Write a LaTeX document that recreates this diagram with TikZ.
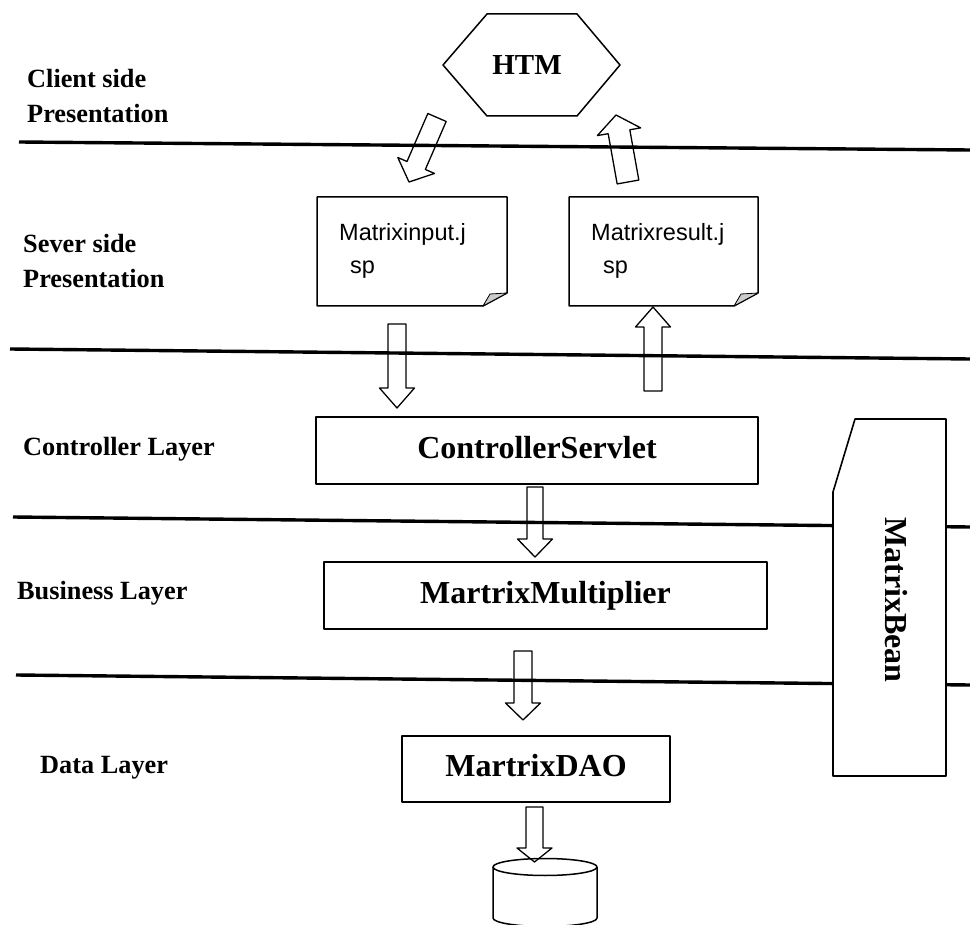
\documentclass[tikz,border=0pt]{standalone}
\usepackage{fontspec}
\setmainfont{Liberation Serif}
\newfontfamily\docfont{Liberation Sans}
\usetikzlibrary{calc}
% hollow block arrow: tail, tip, shaft half width, head half width, head length
\newcommand\blockarr[5]{%
  \coordinate (h) at ($(#2)!#5pt!(#1)$);
  \draw[barrow] ($(#1)!#3pt!90:(#2)$) -- ($(h)!#3pt!90:(#2)$) -- ($(h)!#4pt!90:(#2)$) -- (#2)
    -- ($(h)!#4pt!-90:(#2)$) -- ($(h)!#3pt!-90:(#2)$) -- ($(#1)!#3pt!-90:(#2)$) -- cycle;}
\begin{document}
\begin{tikzpicture}[x=1pt,y=-1pt,line join=round,
  layer/.style={line width=3.4pt},
  lbl/.style={anchor=base west,inner sep=0,align=left,font=\bfseries\fontsize{26.3}{35}\selectfont},
  box/.style={draw,line width=1.6pt,inner sep=0,text height=22pt,text depth=7pt,font=\bfseries\fontsize{32}{38}\selectfont},
  doc/.style={line width=1.5pt},
  doctext/.style={anchor=base west,inner sep=0,align=left,font=\docfont\fontsize{23.5}{33}\selectfont},
  barrow/.style={draw,line width=1.3pt}]
\useasboundingbox (0,0) rectangle (970,925);
% layer borders
\draw[layer] (19,142) -- (970,150);
\draw[layer] (10,349) -- (970,359);
\draw[layer] (13,517) -- (970,527);
\draw[layer] (16,675) -- (970,685);
% layer names (base = last line)
\node[lbl] (l1) at (27,123) {Client side\\Presentation};
\node[lbl] (l2) at (23,288) {Sever side\\Presentation};
\node[lbl] (l3) at (23,455) {Controller Layer};
\node[lbl] (l4) at (17,599) {Business Layer};
\node[lbl] (l5) at (40,773) {Data Layer};
% client
\draw[line width=1.5pt] (487,14) -- (577,14) -- (620,65) -- (577,116) -- (487,116) -- (443,65) -- cycle;
\node[anchor=base,inner sep=0,font=\bfseries\fontsize{29}{34}\selectfont] (htm) at (527,75) {HTM};
% jsp pages
\draw[doc] (317,197) -- (507,197) -- (507,293) -- (483,306) -- (317,306) -- cycle;
\filldraw[fill=gray!40,line width=0.8pt] (483,306) -- (490,294) -- (507,293) -- cycle;
\node[doctext] (inp) at (339,274) {Matrixinput.j\\\hspace*{11pt}sp};
\draw[doc] (569,197) -- (758,197) -- (758,293) -- (734,306) -- (569,306) -- cycle;
\filldraw[fill=gray!40,line width=0.8pt] (734,306) -- (741,294) -- (758,293) -- cycle;
\node[doctext] (res) at (591,274) {Matrixresult.j\\\hspace*{12pt}sp};
% layers
\node[box,minimum width=442pt,minimum height=67pt] (ctrl) at (537,450.5) {ControllerServlet};
\node[box,minimum width=443pt,minimum height=67pt] (mult) at (545.5,595.5) {MartrixMultiplier};
\node[box,minimum width=268pt,minimum height=66pt] (dao) at (536,769) {MartrixDAO};
% bean
\draw[line width=1.6pt,fill=white] (855,419) -- (946,419) -- (946,776) -- (833,776) -- (833,492) -- cycle;
\node[rotate=-90,font=\bfseries\fontsize{32}{38}\selectfont] (bean) at (896,600) {MatrixBean};
% database
\coordinate (db) at (545,867);
\draw[line width=1.5pt] (db) ellipse [x radius=52,y radius=8.5];
\draw[line width=1.5pt] (493,867) -- (493,918) arc[start angle=180,end angle=0,x radius=52,y radius=8.5] -- (597,867);
% arrows
\coordinate (a1s) at (437,117.5); \coordinate (a1e) at (409,182);
\coordinate (a2s) at (628,182);   \coordinate (a2e) at (616,115);
\coordinate (a3s) at (397,324);   \coordinate (a3e) at (397,408);
\coordinate (a4s) at (653,391);   \coordinate (a4e) at (653,307);
\coordinate (a5s) at (535,487);   \coordinate (a5e) at (535,557);
\coordinate (a6s) at (523,651);   \coordinate (a6e) at (523,720);
\coordinate (a7s) at (534.5,807); \coordinate (a7e) at (534.5,862);
\blockarr{a1s}{a1e}{10}{20}{18}
\blockarr{a2s}{a2e}{11}{22}{17}
\blockarr{a3s}{a3e}{9}{17.5}{20}
\blockarr{a4s}{a4e}{9}{17.5}{20}
\blockarr{a5s}{a5e}{8}{17.5}{18}
\blockarr{a6s}{a6e}{9}{17.5}{17}
\blockarr{a7s}{a7e}{8.5}{17.5}{14}
\end{tikzpicture}
\end{document}
